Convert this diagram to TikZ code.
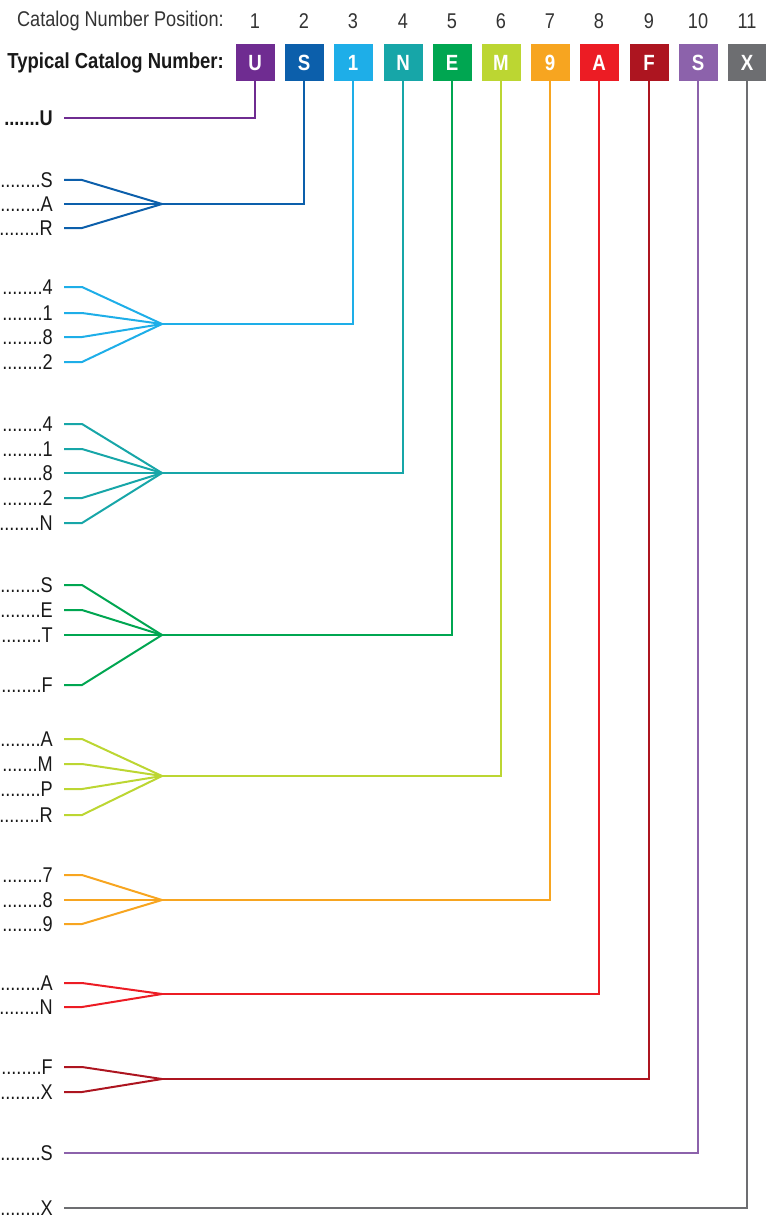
\documentclass[tikz,border=0pt]{standalone}
\usepackage{fontspec}
\setmainfont{Liberation Sans}[FakeStretch=0.85]
\definecolor{cpone}{HTML}{6F2C91}
\definecolor{cptwo}{HTML}{0C5FAB}
\definecolor{cpthree}{HTML}{1EAEE8}
\definecolor{cpfour}{HTML}{17A6A8}
\definecolor{cpfive}{HTML}{00A651}
\definecolor{cpsix}{HTML}{BCD632}
\definecolor{cpseven}{HTML}{F7A520}
\definecolor{cpeight}{HTML}{EC1C24}
\definecolor{cpnine}{HTML}{AD1520}
\definecolor{cpten}{HTML}{8C62AB}
\definecolor{cpeleven}{HTML}{6D6E71}

\begin{document}
\begin{tikzpicture}[x=0.75pt,y=-0.75pt,
  catbox/.style={minimum width=29.25pt,minimum height=27.75pt,inner sep=0pt,outer sep=0pt,text=white,font=\fontsize{16.5}{18}\selectfont\bfseries},
  posnum/.style={inner sep=0pt,text=black!80,font=\fontsize{16}{18}\selectfont},
  opt/.style={anchor=east,inner xsep=8.25pt,inner ysep=0pt,text=black!90,font=\fontsize{16}{18}\selectfont},
  wire/.style={line width=1.5pt}]
\useasboundingbox (0,0) rectangle (766,1220);

% header
\node[posnum,anchor=east] (hpos) at (224,21) {Catalog Number Position:};
\node[posnum] (n1) at (255,21) {1};
\node[posnum] (n2) at (304,21) {2};
\node[posnum] (n3) at (353,21) {3};
\node[posnum] (n4) at (403,21) {4};
\node[posnum] (n5) at (452,21) {5};
\node[posnum] (n6) at (501,21) {6};
\node[posnum] (n7) at (550,21) {7};
\node[posnum] (n8) at (599,21) {8};
\node[posnum] (n9) at (649,21) {9};
\node[posnum] (n10) at (698,21) {10};
\node[posnum] (n11) at (747,21) {11};
\node[posnum,anchor=east,text=black!90,font=\fontsize{16.3}{18}\selectfont\bfseries] (htyp) at (224,63) {Typical Catalog Number:};

% code boxes
\node[catbox,fill=cpone] (b1) at (255,63) {U};
\node[catbox,fill=cptwo] (b2) at (304,63) {S};
\node[catbox,fill=cpthree] (b3) at (353,63) {1};
\node[catbox,fill=cpfour] (b4) at (403,63) {N};
\node[catbox,fill=cpfive] (b5) at (452,63) {E};
\node[catbox,fill=cpsix] (b6) at (501,63) {M};
\node[catbox,fill=cpseven] (b7) at (550,63) {9};
\node[catbox,fill=cpeight] (b8) at (599,63) {A};
\node[catbox,fill=cpnine] (b9) at (649,63) {F};
\node[catbox,fill=cpten] (b10) at (698,63) {S};
\node[catbox,fill=cpeleven] (b11) at (747,63) {X};

% position 1
\node[opt,font=\fontsize{16}{18}\selectfont\bfseries] (o1) at (64,118) {.......U};
\draw[wire,cpone] (o1.east) -- (o1.east -| b1) -- (b1.south);

% position 2
\node[opt] (o2a) at (64,180) {........S};
\node[opt] (o2b) at (64,204) {........A};
\node[opt] (o2c) at (64,228) {........R};
\coordinate (m2) at (162,204);
\draw[wire,cptwo] (o2a.east) -- ++(18,0) -- (m2);
\draw[wire,cptwo] (o2b.east) -- (m2);
\draw[wire,cptwo] (o2c.east) -- ++(18,0) -- (m2);
\draw[wire,cptwo] (m2) -- (m2 -| b2) -- (b2.south);

% position 3
\node[opt] (o3a) at (64,287) {........4};
\node[opt] (o3b) at (64,313) {........1};
\node[opt] (o3c) at (64,337) {........8};
\node[opt] (o3d) at (64,362) {........2};
\coordinate (m3) at (162,324);
\draw[wire,cpthree] (o3a.east) -- ++(18,0) -- (m3);
\draw[wire,cpthree] (o3b.east) -- ++(18,0) -- (m3);
\draw[wire,cpthree] (o3c.east) -- ++(18,0) -- (m3);
\draw[wire,cpthree] (o3d.east) -- ++(18,0) -- (m3);
\draw[wire,cpthree] (m3) -- (m3 -| b3) -- (b3.south);

% position 4
\node[opt] (o4a) at (64,424) {........4};
\node[opt] (o4b) at (64,449) {........1};
\node[opt] (o4c) at (64,473) {........8};
\node[opt] (o4d) at (64,498) {........2};
\node[opt] (o4e) at (64,523) {........N};
\coordinate (m4) at (162,473);
\draw[wire,cpfour] (o4a.east) -- ++(18,0) -- (m4);
\draw[wire,cpfour] (o4b.east) -- ++(18,0) -- (m4);
\draw[wire,cpfour] (o4c.east) -- (m4);
\draw[wire,cpfour] (o4d.east) -- ++(18,0) -- (m4);
\draw[wire,cpfour] (o4e.east) -- ++(18,0) -- (m4);
\draw[wire,cpfour] (m4) -- (m4 -| b4) -- (b4.south);

% position 5
\node[opt] (o5a) at (64,585) {........S};
\node[opt] (o5b) at (64,610) {........E};
\node[opt] (o5c) at (64,635) {........T};
\node[opt] (o5d) at (64,685) {........F};
\coordinate (m5) at (162,635);
\draw[wire,cpfive] (o5a.east) -- ++(18,0) -- (m5);
\draw[wire,cpfive] (o5b.east) -- ++(18,0) -- (m5);
\draw[wire,cpfive] (o5c.east) -- (m5);
\draw[wire,cpfive] (o5d.east) -- ++(18,0) -- (m5);
\draw[wire,cpfive] (m5) -- (m5 -| b5) -- (b5.south);

% position 6
\node[opt] (o6a) at (64,739) {........A};
\node[opt] (o6b) at (64,764) {.......M};
\node[opt] (o6c) at (64,789) {........P};
\node[opt] (o6d) at (64,815) {........R};
\coordinate (m6) at (162,776);
\draw[wire,cpsix] (o6a.east) -- ++(18,0) -- (m6);
\draw[wire,cpsix] (o6b.east) -- ++(18,0) -- (m6);
\draw[wire,cpsix] (o6c.east) -- ++(18,0) -- (m6);
\draw[wire,cpsix] (o6d.east) -- ++(18,0) -- (m6);
\draw[wire,cpsix] (m6) -- (m6 -| b6) -- (b6.south);

% position 7
\node[opt] (o7a) at (64,875) {........7};
\node[opt] (o7b) at (64,900) {........8};
\node[opt] (o7c) at (64,924) {........9};
\coordinate (m7) at (162,900);
\draw[wire,cpseven] (o7a.east) -- ++(18,0) -- (m7);
\draw[wire,cpseven] (o7b.east) -- (m7);
\draw[wire,cpseven] (o7c.east) -- ++(18,0) -- (m7);
\draw[wire,cpseven] (m7) -- (m7 -| b7) -- (b7.south);

% position 8
\node[opt] (o8a) at (64,983) {........A};
\node[opt] (o8b) at (64,1007) {........N};
\coordinate (m8) at (162,994);
\draw[wire,cpeight] (o8a.east) -- ++(18,0) -- (m8);
\draw[wire,cpeight] (o8b.east) -- ++(18,0) -- (m8);
\draw[wire,cpeight] (m8) -- (m8 -| b8) -- (b8.south);

% position 9
\node[opt] (o9a) at (64,1067) {........F};
\node[opt] (o9b) at (64,1092) {........X};
\coordinate (m9) at (162,1079);
\draw[wire,cpnine] (o9a.east) -- ++(18,0) -- (m9);
\draw[wire,cpnine] (o9b.east) -- ++(18,0) -- (m9);
\draw[wire,cpnine] (m9) -- (m9 -| b9) -- (b9.south);

% positions 10 and 11
\node[opt] (o10) at (64,1153) {........S};
\draw[wire,cpten] (o10.east) -- (o10.east -| b10) -- (b10.south);
\node[opt] (o11) at (64,1208) {........X};
\draw[wire,cpeleven] (o11.east) -- (o11.east -| b11) -- (b11.south);
\end{tikzpicture}
\end{document}
